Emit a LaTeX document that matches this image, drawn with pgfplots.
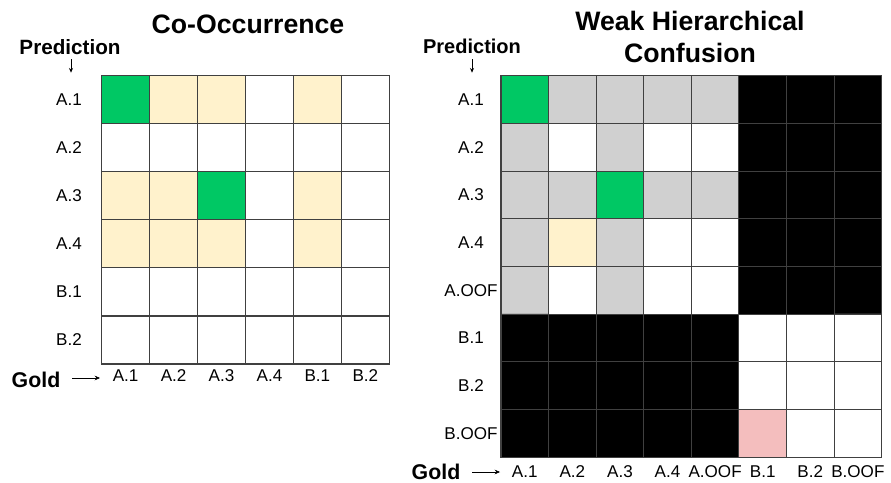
\documentclass[border=0pt]{standalone}
\usepackage{fontspec}
\setmainfont{Liberation Sans}
\usepackage{pgfplots}
\pgfplotsset{compat=1.18}
\usepackage{pgfplotstable}
\usetikzlibrary{arrows.meta}

\definecolor{gridline}{RGB}{64,64,64}

% codes: 0 white, 1 beige, 2 green, 3 grey, 4 black, 5 pink
\pgfplotstableread{
x y c
0 0 2
1 0 1
2 0 1
3 0 0
4 0 1
5 0 0
0 1 0
1 1 0
2 1 0
3 1 0
4 1 0
5 1 0
0 2 1
1 2 1
2 2 2
3 2 0
4 2 1
5 2 0
0 3 1
1 3 1
2 3 1
3 3 0
4 3 1
5 3 0
0 4 0
1 4 0
2 4 0
3 4 0
4 4 0
5 4 0
0 5 0
1 5 0
2 5 0
3 5 0
4 5 0
5 5 0
}\leftdata

\pgfplotstableread{
x y c
0 0 2
1 0 3
2 0 3
3 0 3
4 0 3
5 0 4
6 0 4
7 0 4
0 1 3
1 1 0
2 1 3
3 1 0
4 1 0
5 1 4
6 1 4
7 1 4
0 2 3
1 2 3
2 2 2
3 2 3
4 2 3
5 2 4
6 2 4
7 2 4
0 3 3
1 3 1
2 3 3
3 3 0
4 3 0
5 3 4
6 3 4
7 3 4
0 4 3
1 4 0
2 4 3
3 4 0
4 4 0
5 4 4
6 4 4
7 4 4
0 5 4
1 5 4
2 5 4
3 5 4
4 5 4
5 5 0
6 5 0
7 5 0
0 6 4
1 6 4
2 6 4
3 6 4
4 6 4
5 6 0
6 6 0
7 6 0
0 7 4
1 7 4
2 7 4
3 7 4
4 7 4
5 7 5
6 7 0
7 7 0
}\rightdata

\pgfplotsset{
  gridax/.style={
    scale only axis,
    axis on top,
    y dir=reverse,
    xmin=-0.5, ymin=-0.5,
    major tick length=0pt, minor tick length=0pt,
    xminorgrids, yminorgrids,
    minor grid style={draw=gridline, line width=0.85pt},
    axis line style={draw=gridline, line width=0.85pt},
    colormap={cells}{rgb255=(255,255,255) rgb255=(255,242,204) rgb255=(0,200,100) rgb255=(208,208,208) rgb255=(0,0,0) rgb255=(244,190,190)},
    colormap access=direct,
    tick label style={font=\fontsize{12.8}{14}\selectfont},
  }
}

\begin{document}
\begin{tikzpicture}
\useasboundingbox (0,0) rectangle (668.25pt,361.5pt);

% left grid
\begin{axis}[gridax,
  at={(76.28pt,88.5pt)}, anchor=south west,
  width=215.7pt, height=216.2pt,
  xmax=5.5, ymax=5.5,
  xtick={0,...,5}, ytick={0,...,5},
  minor xtick={-0.5,0.5,...,5.5}, minor ytick={-0.5,0.5,...,5.5},
  xticklabels={A.1,A.2,A.3,A.4,B.1,B.2},
  yticklabels={A.1,A.2,A.3,A.4,B.1,B.2},
  yticklabel style={anchor=center, xshift=-24.5pt},
  xticklabel style={yshift=-1pt},
]
\addplot[matrix plot*, mesh/cols=6, point meta=explicit] table[meta=c] {\leftdata};
\end{axis}

% right grid
\begin{axis}[gridax,
  at={(375.75pt,18.53pt)}, anchor=south west,
  width=285.5pt, height=286.2pt,
  xmax=7.5, ymax=7.5,
  xtick={0,...,7}, ytick={0,...,7},
  minor xtick={-0.5,0.5,...,7.5}, minor ytick={-0.5,0.5,...,7.5},
  xticklabels={A.1,A.2,A.3,A.4,A.OOF,B.1,B.2,B.OOF},
  yticklabels={A.1,A.2,A.3,A.4,A.OOF,B.1,B.2,B.OOF},
  yticklabel style={anchor=center, xshift=-22.5pt},
  xticklabel style={yshift=-2.5pt},
]
\addplot[matrix plot*, mesh/cols=8, point meta=explicit] table[meta=c] {\rightdata};
\end{axis}

% titles
\node[font=\bfseries\fontsize{20}{24}\selectfont] at (186pt,343.5pt) {Co-Occurrence};
\node[font=\bfseries\fontsize{20}{24}\selectfont, align=center] at (517.5pt,333.8pt) {Weak Hierarchical\\Confusion};

% prediction labels
\node[font=\bfseries\fontsize{15.5}{18}\selectfont] at (52.5pt,326.25pt) {Prediction};
\node[font=\bfseries\fontsize{15}{18}\selectfont] at (354pt,327pt) {Prediction};
\draw[-{Stealth[length=3.5pt,width=3pt]}, line width=0.5pt] (53.25pt,317pt) -- (53.25pt,307pt);
\draw[-{Stealth[length=3.5pt,width=3pt]}, line width=0.5pt] (354pt,317pt) -- (354pt,307pt);

% gold labels
\node[font=\bfseries\fontsize{16}{19}\selectfont] at (27pt,76.5pt) {Gold};
\node[font=\bfseries\fontsize{16}{19}\selectfont] at (327pt,7.8pt) {Gold};
\draw[-{Stealth[length=4pt,width=3.5pt]}, line width=0.5pt] (54pt,78pt) -- (75pt,78pt);
\draw[-{Stealth[length=4pt,width=3.5pt]}, line width=0.5pt] (354pt,7.5pt) -- (375pt,7.5pt);
\end{tikzpicture}
\end{document}
